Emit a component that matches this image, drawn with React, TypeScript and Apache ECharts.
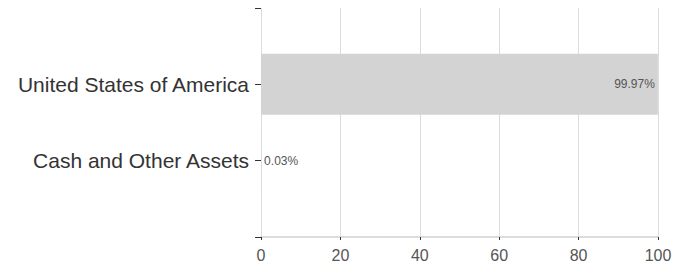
import React, { useEffect, useRef } from "react";
import * as echarts from "echarts";

const categories = ["", "United States of America", "Cash and Other Assets", ""];
const values: (number | null)[] = [null, 99.97, 0.03, null];
const xTicks = [0, 20, 40, 60, 80, 100];

export default function App() {
  const ref = useRef<HTMLDivElement>(null);
  useEffect(() => {
    if (!ref.current) return;
    const chart = echarts.init(ref.current, null, { renderer: "svg" });
    chart.setOption({
      animation: false,
      grid: { left: 261, right: 31, top: 8, bottom: 34, containLabel: false },
      xAxis: {
        type: "value",
        min: xTicks[0],
        max: xTicks[xTicks.length - 1],
        interval: 20,
        axisLine: { show: true, lineStyle: { color: "#dcdcdc", width: 2 } },
        axisTick: { show: true, length: 3, lineStyle: { color: "#333" } },
        splitLine: { show: true, lineStyle: { color: "#dcdcdc", width: 1 } },
        axisLabel: {
          margin: 10,
          fontSize: 16,
          color: "#555",
          fontFamily: "Liberation Sans, Arial, sans-serif",
        },
      },
      yAxis: {
        type: "category",
        data: categories,
        inverse: true,
        boundaryGap: false,
        axisLine: { show: true, lineStyle: { color: "#dcdcdc", width: 1 } },
        axisTick: { show: true, length: 6, lineStyle: { color: "#333" } },
        axisLabel: {
          margin: 12,
          fontSize: 21,
          color: "#333",
          fontFamily: "Liberation Sans, Arial, sans-serif",
        },
        splitLine: { show: false },
      },
      series: [
        {
          type: "bar",
          data: values.map((v) => ({
            value: v,
            label: {
              show: v !== null,
              position: v !== null && v > 50 ? "insideRight" : "right",
              distance: 3,
              formatter: (p: any) => `${Number(p.value).toFixed(2)}%`,
              fontSize: 12,
              color: "#555",
              fontFamily: "Liberation Sans, Arial, sans-serif",
            },
          })),
          barWidth: 61,
          itemStyle: { color: "#d3d3d3" },
        },
      ],
    });
    return () => chart.dispose();
  }, []);
  return <div ref={ref} style={{ width: 689, height: 271, margin: -8 }} />;
}
